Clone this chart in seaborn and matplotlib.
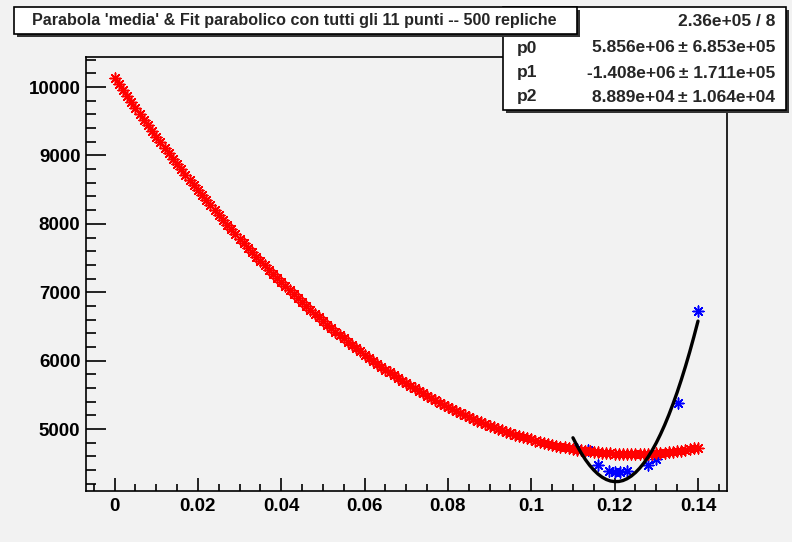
import numpy as np
import pandas as pd
import matplotlib
matplotlib.use("Agg")
import matplotlib.pyplot as plt
from matplotlib.patches import Rectangle
from matplotlib.ticker import MultipleLocator
import seaborn as sns

# red "media" parabola, one point every 0.001 from 0 to 0.14
media_x = np.round(np.arange(141) * 0.001, 3)
media_y = [
    10130, 10041, 9953, 9866, 9779, 9693, 9608, 9524, 9440, 9357,
    9275, 9193, 9112, 9032, 8953, 8874, 8796, 8719, 8643, 8567,
    8492, 8418, 8344, 8271, 8199, 8128, 8057, 7987, 7918, 7850,
    7782, 7715, 7649, 7583, 7518, 7454, 7391, 7328, 7266, 7205,
    7145, 7085, 7026, 6968, 6910, 6853, 6797, 6742, 6687, 6633,
    6580, 6527, 6476, 6425, 6374, 6325, 6276, 6228, 6180, 6134,
    6088, 6043, 5998, 5954, 5911, 5869, 5827, 5787, 5747, 5707,
    5669, 5631, 5593, 5557, 5521, 5486, 5452, 5418, 5385, 5353,
    5322, 5291, 5261, 5232, 5204, 5176, 5149, 5122, 5097, 5072,
    5048, 5025, 5002, 4980, 4959, 4938, 4918, 4899, 4881, 4864,
    4847, 4830, 4814, 4799, 4784, 4770, 4757, 4744, 4732, 4721,
    4710, 4700, 4691, 4682, 4674, 4667, 4660, 4654, 4649, 4645,
    4641, 4638, 4636, 4634, 4633, 4633, 4634, 4636, 4638, 4641,
    4645, 4650, 4655, 4661, 4668, 4676, 4685, 4694, 4705, 4716,
    4728,
]

# the 11 points used for the fit (blue); the first two sit under the red band
pts_x = [0.1110, 0.1135, 0.1160, 0.1187, 0.1201, 0.1213, 0.1229, 0.1281, 0.1300, 0.1351, 0.1400]
pts_y = [4712, 4692, 4474, 4391, 4376, 4376, 4391, 4474, 4557, 5384, 6730]

# fitted parabola (black), 0.110 .. 0.140
fit_x = np.round(0.110 + np.arange(31) * 0.001, 3)
fit_y = [
    4872, 4753, 4647, 4552, 4470, 4400, 4342, 4296, 4262, 4240,
    4231, 4233, 4247, 4274, 4313, 4364, 4427, 4502, 4589, 4688,
    4799, 4923, 5058, 5206, 5366, 5537, 5721, 5917, 6125, 6346,
    6578,
]

title = "Parabola 'media' & Fit parabolico con tutti gli 11 punti -- 500 repliche"
stat_labels = ["", "p0", "p1", "p2"]
stat_values = ["2.36e+05 / 8",
               "5.856e+06\u2009\u00b1 6.853e+05",
               "-1.408e+06\u2009\u00b1 1.711e+05",
               "8.889e+04\u2009\u00b1 1.064e+04"]

bg = "#f2f2f2"
sns.set_style("ticks")
plt.rcParams["font.family"] = ["Liberation Sans", "DejaVu Sans"]
plt.rcParams["font.weight"] = "bold"

W, H = 792, 542
fig = plt.figure(figsize=(W / 100, H / 100), dpi=100, facecolor=bg)
ax = fig.add_axes([86 / W, 51 / H, 641 / W, 434 / H], facecolor=bg)

star = (8, 2, 0)
sns.scatterplot(x=pts_x, y=pts_y, ax=ax, marker=star, color="#0000ff",
                s=60, linewidth=1.1, zorder=2)
sns.scatterplot(x=media_x, y=media_y, ax=ax, marker=star, color="#ff0000",
                s=60, linewidth=1.1, zorder=3)
sns.lineplot(x=fit_x, y=fit_y, ax=ax, color="black", linewidth=2.4, zorder=4)

ax.set_xlim(-0.00684, 0.14696)
ax.set_ylim(4094, 10439)
ax.xaxis.set_minor_locator(MultipleLocator(0.005))
ax.yaxis.set_major_locator(MultipleLocator(1000))
ax.yaxis.set_minor_locator(MultipleLocator(200))
ax.set_xticks([0, 0.02, 0.04, 0.06, 0.08, 0.1, 0.12, 0.14])
ax.set_xticklabels(["0", "0.02", "0.04", "0.06", "0.08", "0.1", "0.12", "0.14"])
ax.tick_params(axis="both", which="both", direction="in", width=1.2, colors="black",
               labelsize=13.5)
ax.tick_params(axis="y", which="major", length=14.5, pad=4)
ax.tick_params(axis="y", which="minor", length=7.5)
ax.tick_params(axis="x", which="major", length=9.5, pad=5)
ax.tick_params(axis="x", which="minor", length=5)
for lab in ax.get_xticklabels() + ax.get_yticklabels():
    lab.set_fontweight("bold")
for sp in ax.spines.values():
    sp.set_visible(True)
    sp.set_linewidth(1.2)
    sp.set_color("black")
ax.set_xlabel("")
ax.set_ylabel("")


def box(x0, y0, x1, y1, z):
    # pixel coords from the top-left corner, with a small drop shadow
    sh = Rectangle((x0 + 3, H - y1 - 3), x1 - x0, y1 - y0, transform=None,
                   facecolor="#333333", edgecolor="none", zorder=z)
    fr = Rectangle((x0, H - y1), x1 - x0, y1 - y0, transform=None,
                   facecolor="white", edgecolor="black", linewidth=1.2, zorder=z + 0.1)
    fig.add_artist(sh)
    fig.add_artist(fr)


box(503, 7, 786, 110, 10)
row_base = [26.5, 52.5, 77.5, 101.5]
for lab, val, yy in zip(stat_labels, stat_values, row_base):
    fig.text(517 / W, 1 - yy / H, lab, ha="left", va="baseline", fontsize=12.5,
             fontweight="bold", zorder=11)
    fig.text(775 / W, 1 - yy / H, val, ha="right", va="baseline", fontsize=12.5,
             fontweight="bold", zorder=11)

box(14, 7, 577, 34, 20)
fig.text(294 / W, 1 - 20.5 / H, title, ha="center", va="center", fontsize=11.6,
         fontweight="bold", zorder=21)

fig.savefig("out.png", dpi=100, facecolor=bg)
